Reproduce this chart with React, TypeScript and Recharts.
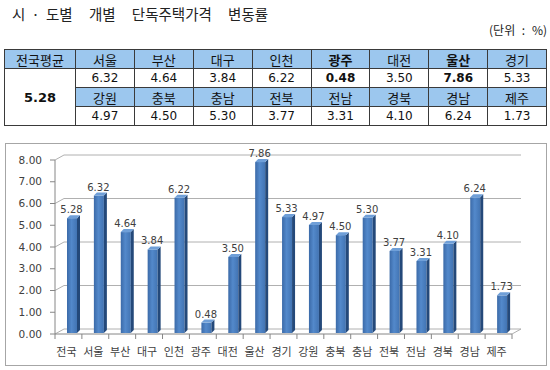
import { Bar, BarChart, CartesianGrid, LabelList, XAxis, YAxis } from "recharts";

const nationalName = "전국";
const nationalAvg = 5.28;
const regions = [
  "서울", "부산", "대구", "인천", "광주", "대전", "울산", "경기",
  "강원", "충북", "충남", "전북", "전남", "경북", "경남", "제주",
];
const changes = [
  6.32, 4.64, 3.84, 6.22, 0.48, 3.5, 7.86, 5.33,
  4.97, 4.5, 5.3, 3.77, 3.31, 4.1, 6.24, 1.73,
];
const boldRegions = ["광주", "울산"];
const yTicks = [0, 1, 2, 3, 4, 5, 6, 7, 8];

const chartData = [
  { name: nationalName, value: nationalAvg },
  ...regions.map((name, i) => ({ name, value: changes[i] })),
];

const KR = '"Noto Sans CJK KR", "Noto Sans", sans-serif';
const LATIN = '"DejaVu Sans", sans-serif';
const AXIS = "#868686";
const GRID = "#b0b0b0";
const DX = 9; // 3d depth
const DY = 5;

function GridLine(p: any) {
  const { x1, y1, x2 } = p;
  return (
    <path
      key={p.key ?? `g${y1}`}
      d={`M${x1},${y1} L${x1 + DX},${y1 - DY} L${x2 + DX},${y1 - DY}`}
      fill="none"
      stroke={GRID}
      strokeWidth={1}
    />
  );
}

function XTick(p: any) {
  const { x, y, payload, index, visibleTicksCount } = p;
  const half = payload?.offset || 13.4;
  const axisY = y - 4;
  const last = index === (visibleTicksCount ?? chartData.length) - 1;
  return (
    <g>
      <line x1={x - half} y1={axisY} x2={x - half} y2={axisY + 5} stroke={AXIS} />
      {last && (
        <>
          <line x1={x + half} y1={axisY} x2={x + half} y2={axisY + 5} stroke={AXIS} />
          <line x1={x + half} y1={axisY} x2={x + half + DX} y2={axisY - DY} stroke={GRID} />
        </>
      )}
      <text
        x={x - 2}
        y={axisY + 22}
        textAnchor="middle"
        fontSize={11}
        fontFamily={KR}
        fill="#404040"
      >
        {payload.value}
      </text>
    </g>
  );
}

function Bar3D(p: any) {
  const { x, y, width, height } = p;
  const side = 3;
  const fx = x + 5;
  const fw = width - side;
  const fy = y - 1;
  return (
    <g>
      <rect x={fx} y={fy} width={fw} height={height} fill="url(#barFront)" />
      <path
        d={`M${fx + fw},${fy} L${fx + fw + side},${fy - side} L${fx + fw + side},${fy + height - side} L${fx + fw},${fy + height} Z`}
        fill="#24497a"
      />
      <path
        d={`M${fx},${fy} L${fx + fw},${fy} L${fx + fw + side},${fy - side} L${fx + side},${fy - side} Z`}
        fill="#6f9fd8"
      />
    </g>
  );
}

function ValueLabel(p: any) {
  const { x, y, width, value } = p;
  return (
    <text
      x={x + width / 2 + 3}
      y={y - 6}
      textAnchor="middle"
      fontSize={10}
      fontFamily={LATIN}
      fill="#404040"
    >
      {Number(value).toFixed(2)}
    </text>
  );
}

const cell: React.CSSProperties = {
  border: "1px solid #3a3a3a",
  height: 18,
  padding: 0,
  textAlign: "center",
  lineHeight: "17px",
};
const head: React.CSSProperties = { ...cell, background: "#9cc7ee", fontSize: 13 };
const num: React.CSSProperties = { ...cell, background: "#fff", fontSize: 12, fontFamily: LATIN };

function TableRows({ names, vals }: { names: string[]; vals: number[] }) {
  return (
    <>
      <tr>
        {names.map((n) => (
          <td key={n} style={{ ...head, fontWeight: boldRegions.includes(n) ? 700 : 400 }}>
            {n}
          </td>
        ))}
      </tr>
      <tr>
        {vals.map((v, i) => (
          <td
            key={names[i]}
            style={{ ...num, fontWeight: boldRegions.includes(names[i]) ? 700 : 400 }}
          >
            {v.toFixed(2)}
          </td>
        ))}
      </tr>
    </>
  );
}

export default function App() {
  return (
    <div
      style={{
        position: "absolute",
        left: 0,
        top: 0,
        width: 550,
        height: 370,
        background: "#fff",
        fontFamily: KR,
        color: "#1a1a1a",
      }}
    >
      <div
        style={{
          position: "absolute",
          left: 12,
          top: 3,
          fontSize: 14.5,
          whiteSpace: "nowrap",
          color: "#222",
        }}
      >
        <span style={{ wordSpacing: 3 }}>시 · 도별</span>
        <span style={{ wordSpacing: 13 }}> 개별 단독주택가격 변동률</span>
      </div>
      <div
        style={{
          position: "absolute",
          right: 3,
          top: 21,
          fontSize: 12,
          whiteSpace: "pre",
          wordSpacing: 4,
          color: "#222",
        }}
      >
        (단위 : %)
      </div>

      <table
        style={{
          position: "absolute",
          left: 4,
          top: 49,
          width: 543,
          borderCollapse: "collapse",
          tableLayout: "fixed",
          color: "#111",
        }}
      >
        <colgroup>
          <col style={{ width: 71 }} />
          {regions.slice(0, 8).map((r) => (
            <col key={r} />
          ))}
        </colgroup>
        <tbody>
          <tr>
            <td style={head}>{nationalName}평균</td>
            {regions.slice(0, 8).map((n) => (
              <td key={n} style={{ ...head, fontWeight: boldRegions.includes(n) ? 700 : 400 }}>
                {n}
              </td>
            ))}
          </tr>
          <tr>
            <td rowSpan={3} style={{ ...num, fontSize: 13, fontWeight: 700 }}>
              {nationalAvg.toFixed(2)}
            </td>
            {changes.slice(0, 8).map((v, i) => (
              <td
                key={regions[i]}
                style={{ ...num, fontWeight: boldRegions.includes(regions[i]) ? 700 : 400 }}
              >
                {v.toFixed(2)}
              </td>
            ))}
          </tr>
          <TableRows names={regions.slice(8)} vals={changes.slice(8)} />
        </tbody>
      </table>

      <div
        style={{
          position: "absolute",
          left: 5,
          top: 143,
          width: 542,
          height: 223,
          border: "1px solid #a6a6a6",
          boxSizing: "border-box",
        }}
      >
        <BarChart
          width={540}
          height={221}
          data={chartData}
          margin={{ top: 16, right: 34, bottom: 0, left: 0 }}
          barCategoryGap={0}
        >
          <defs>
            <linearGradient id="barFront" x1="0" y1="0" x2="1" y2="0">
              <stop offset="0%" stopColor="#3b6aa8" />
              <stop offset="45%" stopColor="#5389cb" />
              <stop offset="100%" stopColor="#4274b3" />
            </linearGradient>
          </defs>
          <CartesianGrid vertical={false} horizontal={GridLine} />
          <XAxis
            dataKey="name"
            height={31}
            axisLine={{ stroke: AXIS }}
            tickLine={false}
            tickSize={4}
            tickMargin={0}
            interval={0}
            tick={XTick}
          />
          <YAxis
            width={49}
            domain={[0, 8]}
            ticks={yTicks}
            tickFormatter={(v: number) => v.toFixed(2)}
            axisLine={{ stroke: AXIS }}
            tickLine={{ stroke: AXIS }}
            tickSize={5}
            tickMargin={8}
            tick={{ fontSize: 10.5, fill: "#404040", fontFamily: LATIN }}
          />
          <Bar dataKey="value" barSize={13} shape={Bar3D} isAnimationActive={false}>
            <LabelList dataKey="value" content={ValueLabel} />
          </Bar>
        </BarChart>
      </div>
    </div>
  );
}
